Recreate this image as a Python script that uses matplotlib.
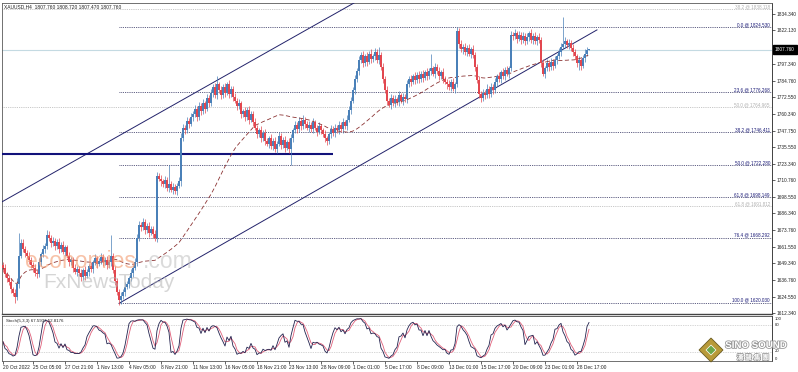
import numpy as np
import pandas as pd
import matplotlib
matplotlib.use("Agg")
import matplotlib.pyplot as plt
from matplotlib.patches import Polygon, Rectangle
import matplotlib.patheffects as pe

plt.rcParams['font.family'] = ['Liberation Sans', 'DejaVu Sans']

W, H = 798, 372

# ---- XAUUSD H4 candles ----
first_open = 1648.0
closes = [
    1646, 1641, 1638, 1635, 1630, 1627, 1624, 1634, 1655, 1664,
    1660, 1657, 1655, 1652, 1648, 1646, 1642, 1641, 1650, 1656,
    1660, 1662, 1670, 1668, 1664, 1666, 1662, 1665, 1660, 1663,
    1658, 1661, 1655, 1650, 1652, 1646, 1643, 1645, 1642, 1639,
    1644, 1640, 1643, 1647, 1645, 1650, 1653, 1649, 1651, 1654,
    1650, 1652, 1648, 1650, 1655, 1644, 1636, 1628, 1622, 1625,
    1628, 1632, 1634, 1638, 1642, 1646, 1650, 1668, 1678, 1676,
    1680, 1674, 1677, 1672, 1675, 1671, 1668, 1714, 1712, 1710,
    1708, 1711, 1705, 1708, 1704, 1706, 1703, 1707, 1710, 1742,
    1750, 1748, 1755, 1753, 1758, 1760, 1764, 1758, 1766, 1762,
    1768, 1764, 1772, 1768, 1776, 1780, 1774, 1782, 1778, 1774,
    1780, 1776, 1782, 1775, 1779, 1773, 1770, 1766, 1768, 1760,
    1762, 1758, 1763, 1756, 1760, 1754, 1750, 1745, 1748, 1742,
    1746, 1740, 1738, 1742, 1736, 1740, 1734, 1738, 1744, 1737,
    1741, 1735, 1739, 1734, 1742, 1748, 1752, 1749, 1755, 1751,
    1756, 1753, 1750, 1752, 1749, 1754, 1750, 1747, 1751, 1748,
    1745, 1742, 1740, 1745, 1749, 1746, 1750, 1748, 1752, 1749,
    1754, 1751, 1756, 1763, 1770, 1778, 1786, 1792, 1800, 1804,
    1798, 1803, 1799, 1805, 1801, 1803, 1806, 1800, 1804, 1795,
    1786, 1778, 1770, 1767, 1772, 1768, 1771, 1769, 1774, 1770,
    1773, 1771, 1782, 1786, 1784, 1788, 1785, 1789, 1786, 1790,
    1787, 1791, 1788, 1792, 1794, 1790, 1795, 1792, 1788, 1791,
    1786, 1784, 1782, 1780, 1784, 1779, 1782, 1822, 1812, 1808,
    1810, 1806, 1809, 1805, 1808, 1804, 1795, 1785, 1775, 1772,
    1776, 1774, 1779, 1775, 1780, 1778, 1784, 1788, 1786, 1791,
    1788, 1793, 1790, 1794, 1819, 1818, 1820, 1816, 1819, 1815,
    1818, 1814, 1817, 1820, 1815, 1818, 1814, 1817, 1815, 1798,
    1790, 1794, 1798, 1795, 1799, 1796, 1800, 1803, 1806, 1810,
    1812, 1814, 1811, 1813, 1809, 1806, 1803, 1798, 1800, 1796,
    1802, 1805, 1807.76, 1807.76,
]
up_wick = [
    2, 3, 2, 2, 3, 2, 3, 4, 17, 3,
    3, 2, 2, 3, 2, 2, 3, 2, 3, 2,
    3, 2, 4, 3, 2, 3, 2, 2, 3, 2,
    3, 2, 2, 3, 2, 2, 3, 2, 2, 3,
    2, 3, 2, 2, 3, 2, 3, 2, 2, 3,
    2, 2, 3, 2, 15, 2, 3, 2, 2, 3,
    2, 3, 2, 2, 3, 2, 3, 3, 3, 2,
    3, 2, 2, 3, 2, 2, 3, 3, 2, 3,
    2, 3, 2, 14, 2, 3, 2, 2, 3, 4,
    3, 2, 3, 2, 3, 2, 3, 2, 3, 2,
    3, 2, 3, 2, 3, 2, 3, 6, 2, 3,
    2, 3, 2, 3, 2, 2, 3, 2, 3, 2,
    2, 3, 2, 3, 2, 2, 3, 2, 2, 3,
    2, 3, 2, 2, 3, 2, 3, 2, 3, 2,
    2, 3, 2, 3, 3, 2, 3, 2, 3, 2,
    3, 2, 2, 3, 2, 3, 2, 2, 3, 2,
    2, 3, 2, 2, 3, 2, 3, 2, 3, 2,
    3, 2, 3, 3, 3, 2, 3, 2, 3, 2,
    3, 2, 3, 2, 3, 2, 3, 2, 6, 2,
    3, 2, 3, 2, 3, 2, 3, 2, 3, 2,
    3, 2, 3, 2, 3, 2, 3, 2, 3, 2,
    3, 2, 3, 2, 11, 2, 3, 2, 3, 2,
    3, 2, 2, 3, 2, 3, 2, 3, 2, 3,
    2, 3, 2, 3, 2, 3, 2, 2, 3, 2,
    3, 2, 3, 2, 3, 2, 3, 2, 3, 2,
    3, 2, 3, 2, 3, 2, 3, 2, 3, 2,
    3, 2, 3, 2, 3, 2, 3, 2, 3, 2,
    3, 2, 3, 2, 3, 2, 3, 2, 3, 3,
    20, 3, 2, 3, 2, 3, 2, 2, 3, 2,
    2, 3, 2, 0.96,
]
dn_wick = [
    3, 2, 3, 2, 3, 2, 4, 2, 3, 2,
    2, 3, 2, 3, 2, 3, 2, 3, 2, 3,
    2, 3, 2, 2, 3, 2, 3, 2, 3, 2,
    2, 3, 2, 3, 2, 3, 2, 3, 2, 3,
    2, 3, 2, 3, 2, 3, 2, 3, 2, 2,
    3, 2, 3, 2, 3, 2, 3, 2, 4, 3,
    2, 3, 2, 3, 2, 3, 2, 3, 2, 3,
    2, 3, 2, 3, 2, 3, 2, 3, 2, 3,
    2, 3, 2, 3, 2, 3, 2, 3, 2, 3,
    2, 3, 2, 3, 2, 3, 2, 3, 2, 3,
    2, 3, 2, 3, 2, 3, 2, 3, 2, 3,
    2, 3, 2, 3, 2, 3, 2, 3, 2, 3,
    2, 3, 2, 3, 2, 3, 2, 3, 2, 3,
    2, 3, 2, 3, 2, 3, 2, 3, 2, 3,
    2, 3, 2, 3, 12, 3, 2, 3, 2, 3,
    2, 3, 2, 3, 2, 3, 2, 3, 2, 3,
    2, 3, 3, 2, 3, 2, 3, 2, 3, 2,
    3, 2, 3, 2, 3, 2, 3, 2, 3, 2,
    3, 2, 3, 2, 3, 2, 3, 2, 3, 2,
    3, 2, 3, 2, 3, 2, 3, 2, 3, 2,
    3, 2, 3, 2, 3, 2, 3, 2, 3, 2,
    3, 2, 3, 2, 3, 2, 3, 2, 3, 2,
    3, 2, 3, 2, 3, 2, 3, 2, 3, 2,
    3, 2, 3, 2, 3, 2, 3, 2, 3, 3,
    2, 3, 2, 3, 2, 3, 2, 3, 2, 3,
    2, 3, 2, 3, 2, 3, 2, 3, 2, 3,
    2, 3, 2, 3, 2, 3, 2, 3, 2, 3,
    2, 3, 2, 3, 2, 3, 2, 3, 2, 3,
    2, 3, 2, 3, 2, 3, 2, 3, 5, 3,
    2, 3, 2, 0.29,
]

date_labels = ["20 Oct 2022", "25 Oct 05:00", "27 Oct 21:00", "1 Nov 13:00", "4 Nov 05:00",
               "8 Nov 21:00", "11 Nov 13:00", "16 Nov 05:00", "18 Nov 21:00", "23 Nov 13:00",
               "28 Nov 09:00", "1 Dec 01:00", "5 Dec 17:00", "8 Dec 09:00", "13 Dec 01:00",
               "15 Dec 17:00", "20 Dec 09:00", "23 Dec 01:00", "28 Dec 17:00"]
date_bars = [0, 15, 31, 47, 63, 79, 95, 111, 127, 143, 159, 175, 191, 207, 223, 239, 255, 271, 287]

# 1809.550 sits under the bid box, so it is not listed
price_ticks = [1834.340, 1822.130, 1797.340, 1784.760, 1772.550, 1760.340, 1747.750,
               1735.550, 1723.340, 1710.760, 1698.550, 1686.340, 1673.760, 1661.550, 1649.340,
               1636.760, 1624.550, 1612.340]

fib_levels = [0.0, 23.6, 38.2, 50.0, 61.8, 76.4, 100.0]
fib_prices = [1824.530, 1776.268, 1746.411, 1722.280, 1698.149, 1668.292, 1620.030]
fib2_levels = [38.2, 50.0, 61.8]
fib2_prices = [1838.118, 1764.965, 1691.812]

# trendlines: (bar, price) anchors
upper_channel = [(0, 1695.3), (176, 1842.95)]
lower_channel = [(58, 1619.5), (282, 1809.8)]
lower_channel_end = 297
support_price = 1730.2
support_end = 165

stoch_text = "Stoch(5,3,3) 67.5937 52.8176"

# ---- derived series ----
closes = np.array(closes, dtype=float)
opens = np.concatenate([[first_open], closes[:-1]])
highs = np.maximum(opens, closes) + np.array(up_wick)
lows = np.minimum(opens, closes) - np.array(dn_wick)
n = len(closes)
x = np.arange(n)

df = pd.DataFrame({"o": opens, "h": highs, "l": lows, "c": closes})
ma = df.c.rolling(50, min_periods=1).mean()
hh = df.h.rolling(5, min_periods=1).max()
ll = df.l.rolling(5, min_periods=1).min()
stoch_k = 100 * (df.c - ll).rolling(3, min_periods=1).sum() / (hh - ll).rolling(3, min_periods=1).sum()
stoch_d = stoch_k.rolling(3, min_periods=1).mean()

# ---- figure ----
fig = plt.figure(figsize=(W / 100, H / 100), dpi=100)
fig.patch.set_facecolor("white")

def fx(px):
    return px / W

def fy(py):
    return 1 - py / H

ax = fig.add_axes([fx(2), fy(314), 770 / W, 311 / H])
ax2 = fig.add_axes([fx(2), fy(361), 770 / W, 45 / H])

xmin, xmax = -0.5, 384.5
ymin = 1612.34 - 1 / 1.3468
ymax = 1834.34 + 11 / 1.3468

# grey fib (full width)
for lv, p in zip(fib2_levels, fib2_prices):
    ax.axhline(p, color="#b4b4b4", lw=0.6, ls=(0, (1, 1.2)), zorder=1)
    ax.text(383.5, p, "%.1f @ %.3f" % (lv, p), color="#b0b0b0", fontsize=3.3,
            ha="right", va="bottom", zorder=2)

# main fib from the swing low
fib_start = int(np.argmin(lows))
for lv, p in zip(fib_levels, fib_prices):
    ax.hlines(p, fib_start, xmax, color="#2a2a5a", lw=0.6, ls=(0, (1, 1.2)), zorder=1)
    ax.text(383.5, p, "%.1f @ %.3f" % (lv, p), color="#1c1c78", fontsize=3.3,
            ha="right", va="bottom", zorder=2)

# bid line
ax.axhline(closes[-1], color="#c4dae2", lw=0.8, zorder=1)

# channel lines
(x0, y0), (x1, y1) = upper_channel
slope = (y1 - y0) / (x1 - x0)
ax.plot([xmin, 240], [y0 + slope * (xmin - x0), y0 + slope * (240 - x0)], color="#22226a", lw=0.7, zorder=3)
(x0, y0), (x1, y1) = lower_channel
slope = (y1 - y0) / (x1 - x0)
ax.plot([x0, lower_channel_end], [y0, y0 + slope * (lower_channel_end - x0)], color="#22226a", lw=0.7, zorder=3)

# horizontal support
ax.hlines(support_price, xmin, support_end, color="#12127a", lw=1.5, zorder=3)

# candles
bull = closes >= opens
cols = np.where(bull, "#4a80b8", "#e2474f")
ax.vlines(x, lows, highs, colors=cols, lw=0.5, zorder=4)
body_lo = np.minimum(opens, closes)
body_h = np.maximum(np.abs(closes - opens), 0.3)
ax.bar(x, body_h, bottom=body_lo, width=0.6, color=cols, lw=0, zorder=5)

# moving average
ax.plot(x, ma, color="#8c3434", lw=0.6, ls=(0, (5, 3)), zorder=4)

ax.set_xlim(xmin, xmax)
ax.set_ylim(ymin, ymax)
ax.yaxis.tick_right()
ax.set_yticks(price_ticks)
ax.set_yticklabels(["%.3f" % p for p in price_ticks])
ax.tick_params(axis="y", labelsize=3.4, length=2, width=0.5, pad=1.5, colors="#222222")
ax.set_xticks([])
for s in ax.spines.values():
    s.set_color("#5a5a5a")
    s.set_linewidth(0.6)
ax.spines["bottom"].set_linewidth(1.0)
ax.spines["bottom"].set_color("#444444")
ax.spines["right"].set_color("#222222")

# stochastic
ax2.axhline(80, color="#b0b0b0", lw=0.5, ls=(0, (1, 1.5)))
ax2.axhline(20, color="#b0b0b0", lw=0.5, ls=(0, (1, 1.5)))
ax2.plot(x, stoch_d, color="#e0607a", lw=0.6)
ax2.plot(x, stoch_k, color="#22224e", lw=0.6)
ax2.set_xlim(xmin, xmax)
ax2.set_ylim(0, 100)
ax2.set_yticks([])
ax2.set_xticks(date_bars)
ax2.set_xticklabels(date_labels)
ax2.tick_params(axis="x", labelsize=3.5, length=2, width=0.5, pad=0.8, colors="#222222")
for lbl in ax2.get_xticklabels():
    lbl.set_ha("left")
for s in ax2.spines.values():
    s.set_color("#5a5a5a")
    s.set_linewidth(0.6)
ax2.spines["top"].set_color("#444444")
ax2.spines["right"].set_color("#222222")
ax2.text(0.005, 0.93, stoch_text, transform=ax2.transAxes, fontsize=3.2, va="top", color="#222222")

for val, py in [("100", 318.5), ("80", 324.5), ("20", 351.5), ("0", 358.5)]:
    fig.text(fx(775), fy(py), val, fontsize=3.1, va="center", ha="left", color="#222222")

# title
fig.text(fx(4), fy(7), "XAUUSD,H4  %.3f %.3f %.3f %.3f" % (opens[-1], highs[-1], lows[-1], closes[-1]),
         fontsize=3.5, va="center", color="#222222")

# bid price box
by = fy(14 + (1834.34 - closes[-1]) * 1.3468)
fig.patches.append(Rectangle((fx(773), by - 4.5 / H), 24 / W, 9 / H, transform=fig.transFigure,
                             facecolor="black", edgecolor="black", zorder=10))
fig.text(fx(775), by, "%.3f" % closes[-1], fontsize=3.4, color="white", va="center", ha="left", zorder=11)

# watermarks
fig.text(fx(25), fy(262), "economies", fontsize=16.5, color="#f39a6e", alpha=0.6, va="center", zorder=20)
fig.text(fx(143), fy(262), ".com", fontsize=16.5, color="#c4c4c4", alpha=0.6, va="center", zorder=20)
fig.text(fx(43), fy(283), "FxNewsToday", fontsize=15, color="#b4b4b4", alpha=0.55, va="center", zorder=20)

# Sino Sound logo
cx, cy, r = 711, 350, 12
fig.patches.append(Polygon([(fx(cx), fy(cy - r)), (fx(cx + r), fy(cy)), (fx(cx), fy(cy + r)), (fx(cx - r), fy(cy))],
                           closed=True, transform=fig.transFigure, facecolor="#b89a3a", edgecolor="#6a5a20", lw=0.6, zorder=21))
r2 = 5
fig.patches.append(Polygon([(fx(cx), fy(cy - r2)), (fx(cx + r2), fy(cy)), (fx(cx), fy(cy + r2)), (fx(cx - r2), fy(cy))],
                           closed=True, transform=fig.transFigure, facecolor="#6aa84a", edgecolor="white", lw=0.5, zorder=22))
fig.text(fx(756), fy(345), "SINO SOUND", fontsize=7, fontweight="bold", color="white", ha="center", va="center",
         path_effects=[pe.withStroke(linewidth=1.2, foreground="#9a9a9a")], zorder=23)
fig.text(fx(753), fy(357), "漢 聲 集 團", fontsize=5, fontweight="bold", color="white", ha="center", va="center",
         family=["Noto Sans CJK TC", "DejaVu Sans"],
         path_effects=[pe.withStroke(linewidth=1.0, foreground="#9a9a9a")], zorder=23)

fig.savefig("out.png", dpi=100, facecolor="white")
